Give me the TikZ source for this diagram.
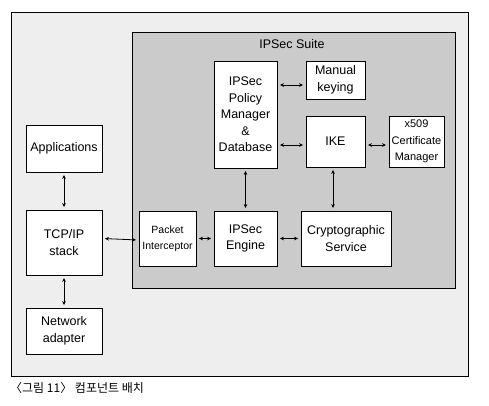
\documentclass[tikz,border=0pt]{standalone}
\usepackage{fontspec}
\setmainfont{Liberation Sans}
\newfontfamily\krfont{Noto Sans CJK KR}
\usetikzlibrary{arrows.meta}
\definecolor{outerbg}{HTML}{EEEEEE}
\definecolor{innerbg}{HTML}{CBCBCB}
\tikzset{
  box/.style={draw=black, line width=0.9pt, fill=white, inner sep=0pt, align=center,
    font=\fontsize{12.5}{16.5}\selectfont},
  smallbox/.style={box, font=\fontsize{10.5}{16}\selectfont},
  arr/.style={{Stealth[length=4pt,width=3.6pt]}-{Stealth[length=4pt,width=3.6pt]}, line width=0.8pt, shorten <=2.5pt, shorten >=2.5pt},
}
\begin{document}
\begin{tikzpicture}[x=1pt,y=-1pt]
\useasboundingbox (0,0) rectangle (489,405);
\draw[line width=0.9pt, fill=outerbg] (11,12) rectangle (468,376);
\draw[line width=0.9pt, fill=innerbg] (132,32) rectangle (455,288);
\node[font=\fontsize{12.5}{15}\selectfont] (suite) at (292,44) {IPSec Suite};

\node[box, minimum width=63pt, minimum height=107pt] (policy) at (245.5,114.5) {IPSec\\Policy\\Manager\\\&\\Database};
\node[box, minimum width=59pt, minimum height=38pt] (manual) at (335.5,80) {Manual\\keying};
\node[box, minimum width=59pt, minimum height=51pt] (ike) at (335.5,141.5) {IKE};
\node[smallbox, font=\fontsize{11}{16.5}\selectfont, minimum width=55pt, minimum height=51pt] (x509) at (416.5,141.5) {x509\\Certificate\\Manager};

\node[box, minimum width=76pt, minimum height=47pt] (apps) at (64,148.5) {Applications};
\node[box, minimum width=76pt, minimum height=65pt] (tcp) at (64,242.5) {TCP/IP\\stack};
\node[box, minimum width=76pt, minimum height=46pt] (net) at (64,331) {Network\\adapter};

\node[smallbox, minimum width=57pt, minimum height=55pt] (packet) at (167.5,238.5) {Packet\\Interceptor};
\node[box, minimum width=63pt, minimum height=55pt] (engine) at (245.5,238.5) {IPSec\\Engine};
\node[box, minimum width=90pt, minimum height=55pt] (crypto) at (346,238.5) {Cryptographic\\Service};

\draw[arr] ([yshift=-5pt]manual.west -| policy.east) -- ([yshift=-5pt]manual.west);
\draw[arr] ([yshift=-3.5pt]ike.west -| policy.east) -- ([yshift=-3.5pt]ike.west);
\draw[arr] ([yshift=-3.5pt]ike.east) -- ([yshift=-3.5pt]x509.west);
\draw[arr] (policy.south) -- (engine.north);
\draw[arr] ([xshift=-2.5pt]ike.south) -- ([xshift=-2.5pt]ike.south |- crypto.north);
\draw[arr] (apps.south) -- (tcp.north);
\draw[arr] (tcp.south) -- (net.north);
\draw[arr] (packet.west -| tcp.east) -- ([yshift=-1.5pt]packet.west);
\draw[arr] (packet.east) -- (engine.west);
\draw[arr] (engine.east) -- (crypto.west);

\node[anchor=west, inner sep=0pt, font=\krfont\fontsize{12}{14}\selectfont] (caption) at (10,388) {〈그림 11〉 컴포넌트 배치};
\end{tikzpicture}
\end{document}
